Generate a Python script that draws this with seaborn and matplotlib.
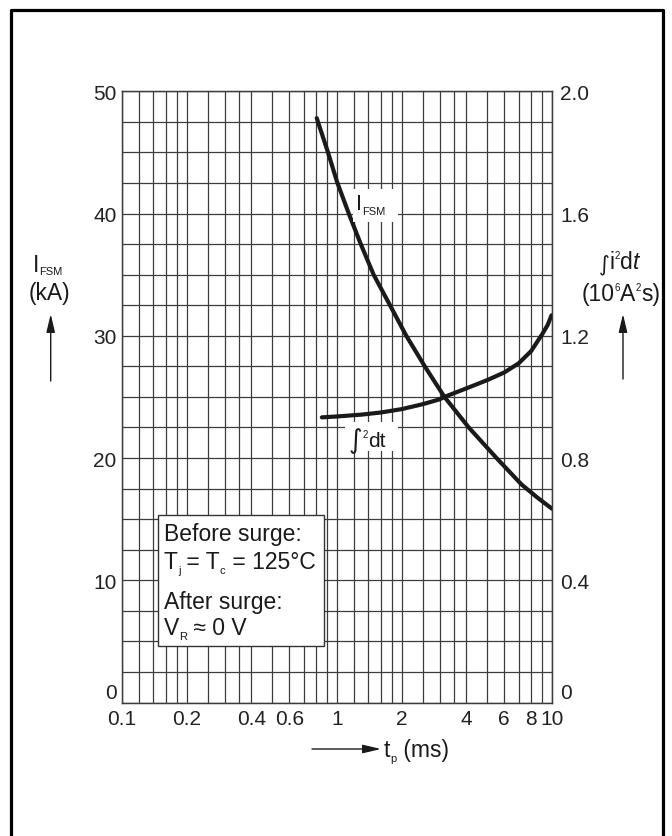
import numpy as np
import pandas as pd
import seaborn as sns
import matplotlib.pyplot as plt
from matplotlib.patches import Rectangle, FancyArrowPatch
from matplotlib.lines import Line2D
from matplotlib.ticker import FixedLocator, NullFormatter

W, H = 672, 837

# surge current curve (kA) vs pulse width (ms)
tp_ifsm = [0.805, 0.91, 1.0, 1.14, 1.29, 1.48, 1.77, 2.1, 2.56, 3.16, 4.1, 5.52, 7.2, 8.5, 10.0]
ifsm_ka = [47.8, 44.95, 42.6, 39.9, 37.5, 35.0, 32.45, 30.0, 27.5, 25.0, 22.5, 20.0, 17.85, 16.8, 15.85]

# i2t curve (10^6 A^2 s) vs pulse width (ms)
tp_i2t = [0.85, 1.0, 1.3, 1.6, 2.0, 2.5, 3.0, 3.16, 4.0, 5.0, 6.0, 7.0, 8.0, 9.0, 9.54, 9.95]
i2t_val = [0.933, 0.936, 0.942, 0.949, 0.96, 0.976, 0.992, 1.0, 1.028, 1.055, 1.08, 1.11, 1.15, 1.205, 1.235, 1.267]

x_major = [0.1, 0.2, 0.4, 0.6, 1, 2, 4, 6, 8, 10]
x_labels = ["0.1", "0.2", "0.4", "0.6", "1", "2", "4", "6", "8", "10"]
x_minor = [0.12, 0.14, 0.16, 0.18, 0.25, 0.3, 0.35, 0.5, 0.7, 0.8, 0.9,
           1.2, 1.4, 1.6, 1.8, 2.5, 3, 3.5, 5, 7, 9]
left_ticks = [0, 10, 20, 30, 40, 50]
left_labels = ["0", "10", "20", "30", "40", "50"]
right_ticks = [0, 0.4, 0.8, 1.2, 1.6, 2.0]
right_labels = ["0", "0.4", "0.8", "1.2", "1.6", "2.0"]
y_minor = np.arange(0, 50.1, 2.5)

sns.set_theme(style="white")
plt.rcParams['font.family'] = ['Liberation Sans', 'DejaVu Sans']

INK = '#1a1a1a'
GRID = '#3c3c3c'

fig = plt.figure(figsize=(W / 100, H / 100), dpi=100)
ax = fig.add_axes([122 / W, 1 - 703.5 / H, 430 / W, (703.5 - 92.3) / H])

df1 = pd.DataFrame({'tp': tp_ifsm, 'ifsm': ifsm_ka})
sns.lineplot(data=df1, x='tp', y='ifsm', ax=ax, color=INK, lw=3, sort=False)
ax.set_xscale('log')
ax.set_xlim(0.1, 10)
ax.set_ylim(0, 50)
ax.xaxis.set_major_locator(FixedLocator(x_major))
ax.xaxis.set_minor_locator(FixedLocator(x_minor))
ax.xaxis.set_minor_formatter(NullFormatter())
ax.set_xticks(x_major, labels=x_labels)
ax.set_yticks(left_ticks, labels=left_labels)
ax.yaxis.set_minor_locator(FixedLocator(y_minor))
ax.grid(which='both', color=GRID, lw=0.9)
ax.set_axisbelow(True)
ax.set_xlabel('')
ax.set_ylabel('')
ax.tick_params(which='both', length=0, labelsize=15, colors='#222222')
ax.tick_params(axis='y', pad=4)
ax.tick_params(axis='x', pad=5)

ax2 = ax.twinx()
df2 = pd.DataFrame({'tp': tp_i2t, 'i2t': i2t_val})
sns.lineplot(data=df2, x='tp', y='i2t', ax=ax2, color=INK, lw=3, sort=False)
ax2.set_ylim(0, 2.0)
ax2.set_xlim(0.1, 10)
ax2.set_yticks(right_ticks, labels=right_labels)
ax2.set_xlabel('')
ax2.set_ylabel('')
ax2.tick_params(which='both', length=0, labelsize=15, colors='#222222', pad=6)

for a in (ax, ax2):
    for s in a.spines.values():
        s.set_color(GRID)
        s.set_linewidth(0.9)

# the two "0" labels sit a little higher than the baseline
ax.yaxis.get_major_ticks()[0].label1.set_va('bottom')
ax2.yaxis.get_major_ticks()[0].label2.set_va('bottom')


def px(x, y):
    return x / W, 1 - y / H


renderer = fig.canvas.get_renderer()


def rich(x, y, parts, ha='left', z=12):
    # parts: (text, size, rise in px, style[, family])
    objs = []
    for p in parts:
        s, size, rise, style = p[:4]
        kw = {'family': p[4]} if len(p) > 4 else {}
        t = fig.text(0, 0, s, fontsize=size, fontstyle=style, color=INK,
                     va='baseline', ha='left', zorder=z, **kw)
        objs.append((t, rise))
    widths = [t.get_window_extent(renderer).width for t, _ in objs]
    x0 = x - sum(widths) / 2 if ha == 'center' else x
    for (t, rise), w in zip(objs, widths):
        t.set_position(px(x0, y - rise))
        x0 += w


def white_box(x0, y0, x1, y1, edge='none'):
    fig.add_artist(Rectangle(px(x0, y1), (x1 - x0) / W, (y1 - y0) / H,
                             transform=fig.transFigure, fc='white', ec=edge,
                             lw=1.0, zorder=11))


def arrow(x0, y0, x1, y1):
    fig.add_artist(FancyArrowPatch(px(x0, y0), px(x1, y1), transform=fig.transFigure,
                                   arrowstyle='-|>,head_length=0.55,head_width=0.13',
                                   mutation_scale=20, lw=1.0, color=INK,
                                   shrinkA=0, shrinkB=0, zorder=12))


# outer frame (bottom edge runs off the page)
fig.add_artist(Line2D([11 / W, 11 / W, 663 / W, 663 / W], [0, 1 - 11 / H, 1 - 11 / H, 0],
                      transform=fig.transFigure, color='black', lw=2.3, zorder=20))

# condition box
white_box(158, 516, 324, 647, edge='#333333')
rich(164, 541.5, [("Before surge:", 16.5, 0, 'normal')])
rich(164, 569, [("T", 16.5, 0, 'normal'), ("j", 8, -5, 'normal'),
                (" = T", 16.5, 0, 'normal'), ("c", 8, -5, 'normal'),
                (" = 125°C", 16.5, 0, 'normal')])
rich(164, 609, [("After surge:", 16.5, 0, 'normal')])
rich(164, 635, [("V", 16.5, 0, 'normal'), ("R", 8, -5, 'normal'),
                (" \u2248 0 V", 16.5, 0, 'normal')])

# curve labels
white_box(353, 190, 398, 223)
rich(356, 210, [("I", 15.5, 0, 'normal'), ("FSM", 8, -5, 'normal')])
white_box(345, 423, 398, 452)
rich(349, 447, [("\u222b", 19, -1, 'normal', 'DejaVu Sans'), ("2", 7, 9, 'normal'),
                ("dt", 15, 0, 'normal')])

# left axis title
rich(48, 272, [("I", 16.5, 0, 'normal'), ("FSM", 8, -3, 'normal')], ha='center')
rich(49.5, 300, [("(kA)", 16.5, 0, 'normal')], ha='center')
arrow(50.7, 382, 50.7, 315)

# right axis title
rich(619, 269, [("\u222b", 15, -1, 'normal', 'DejaVu Sans'), ("i", 16.5, 0, 'normal'),
                ("2", 7, 10, 'normal'), ("d", 16.5, 0, 'normal'), ("t", 16.5, 0, 'italic')],
     ha='center')
rich(621, 301, [("(10", 16.5, 0, 'normal'), ("6", 7, 10, 'normal'), ("A", 16.5, 0, 'normal'),
                ("2", 7, 10, 'normal'), ("s)", 16.5, 0, 'normal')], ha='center')
arrow(623, 380, 623, 315)

# x axis title
arrow(312, 750, 381, 750)
rich(384, 757, [("t", 16.5, 0, 'normal'), ("p", 8, -5, 'normal'), (" (ms)", 16.5, 0, 'normal')])

fig.savefig('out.png', dpi=100)
